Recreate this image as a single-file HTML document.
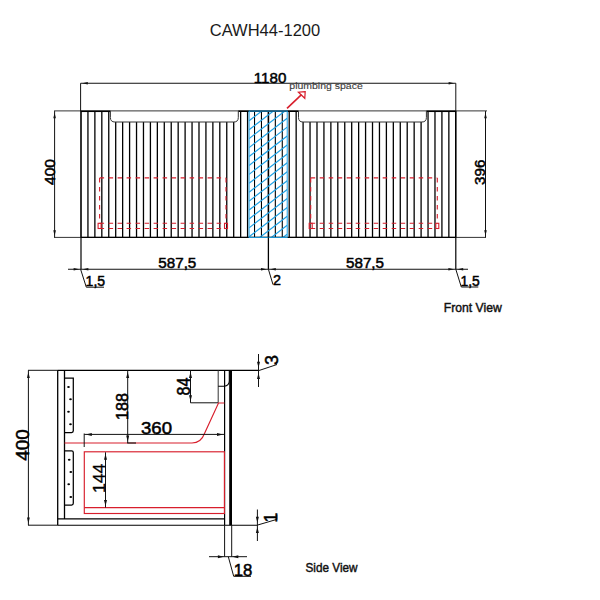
<!DOCTYPE html>
<html><head><meta charset="utf-8"><style>
html,body{margin:0;padding:0;background:#fff;}
svg{display:block;}
text{font-family:"Liberation Sans",sans-serif;}
</style></head><body>
<svg width="600" height="600" viewBox="0 0 600 600">
<rect width="600" height="600" fill="#fff"/>
<text x="209.8" y="36.4" font-size="16.3" text-anchor="start" fill="#1a1a1a" textLength="110.4" lengthAdjust="spacingAndGlyphs" >CAWH44-1200</text>
<line x1="54.00" y1="110.90" x2="487.00" y2="110.90" stroke="#333" stroke-width="1.0" />
<line x1="54.00" y1="237.40" x2="486.00" y2="237.40" stroke="#333" stroke-width="1.0" />
<line x1="81.00" y1="111.10" x2="81.00" y2="237.40" stroke="#000" stroke-width="1.6" />
<line x1="87.94" y1="111.10" x2="87.94" y2="237.40" stroke="#000" stroke-width="1.3" />
<line x1="94.88" y1="111.10" x2="94.88" y2="237.40" stroke="#000" stroke-width="1.3" />
<line x1="101.82" y1="111.10" x2="101.82" y2="237.40" stroke="#000" stroke-width="1.3" />
<line x1="108.76" y1="111.10" x2="108.76" y2="237.40" stroke="#000" stroke-width="1.3" />
<line x1="115.70" y1="122.00" x2="115.70" y2="237.40" stroke="#000" stroke-width="1.3" />
<line x1="122.64" y1="122.00" x2="122.64" y2="237.40" stroke="#000" stroke-width="1.3" />
<line x1="129.59" y1="122.00" x2="129.59" y2="237.40" stroke="#000" stroke-width="1.3" />
<line x1="136.53" y1="122.00" x2="136.53" y2="237.40" stroke="#000" stroke-width="1.3" />
<line x1="143.47" y1="122.00" x2="143.47" y2="237.40" stroke="#000" stroke-width="1.3" />
<line x1="150.41" y1="122.00" x2="150.41" y2="237.40" stroke="#000" stroke-width="1.3" />
<line x1="157.35" y1="122.00" x2="157.35" y2="237.40" stroke="#000" stroke-width="1.3" />
<line x1="164.29" y1="122.00" x2="164.29" y2="237.40" stroke="#000" stroke-width="1.3" />
<line x1="171.23" y1="122.00" x2="171.23" y2="237.40" stroke="#000" stroke-width="1.3" />
<line x1="178.17" y1="122.00" x2="178.17" y2="237.40" stroke="#000" stroke-width="1.3" />
<line x1="185.11" y1="122.00" x2="185.11" y2="237.40" stroke="#000" stroke-width="1.3" />
<line x1="192.05" y1="122.00" x2="192.05" y2="237.40" stroke="#000" stroke-width="1.3" />
<line x1="198.99" y1="122.00" x2="198.99" y2="237.40" stroke="#000" stroke-width="1.3" />
<line x1="205.93" y1="122.00" x2="205.93" y2="237.40" stroke="#000" stroke-width="1.3" />
<line x1="212.87" y1="122.00" x2="212.87" y2="237.40" stroke="#000" stroke-width="1.3" />
<line x1="219.81" y1="122.00" x2="219.81" y2="237.40" stroke="#000" stroke-width="1.3" />
<line x1="226.76" y1="122.00" x2="226.76" y2="237.40" stroke="#000" stroke-width="1.3" />
<line x1="233.70" y1="122.00" x2="233.70" y2="237.40" stroke="#000" stroke-width="1.3" />
<line x1="240.64" y1="111.10" x2="240.64" y2="237.40" stroke="#000" stroke-width="1.3" />
<line x1="247.58" y1="111.10" x2="247.58" y2="237.40" stroke="#000" stroke-width="1.3" />
<line x1="254.52" y1="111.10" x2="254.52" y2="237.40" stroke="#000" stroke-width="1.1" />
<line x1="261.46" y1="111.10" x2="261.46" y2="237.40" stroke="#000" stroke-width="1.1" />
<line x1="268.40" y1="111.10" x2="268.40" y2="237.40" stroke="#000" stroke-width="1.6" />
<line x1="275.34" y1="111.10" x2="275.34" y2="237.40" stroke="#000" stroke-width="1.1" />
<line x1="282.28" y1="111.10" x2="282.28" y2="237.40" stroke="#000" stroke-width="1.1" />
<line x1="289.22" y1="111.10" x2="289.22" y2="237.40" stroke="#000" stroke-width="1.3" />
<line x1="296.16" y1="111.10" x2="296.16" y2="237.40" stroke="#000" stroke-width="1.3" />
<line x1="303.10" y1="122.00" x2="303.10" y2="237.40" stroke="#000" stroke-width="1.3" />
<line x1="310.04" y1="122.00" x2="310.04" y2="237.40" stroke="#000" stroke-width="1.3" />
<line x1="316.99" y1="122.00" x2="316.99" y2="237.40" stroke="#000" stroke-width="1.3" />
<line x1="323.93" y1="122.00" x2="323.93" y2="237.40" stroke="#000" stroke-width="1.3" />
<line x1="330.87" y1="122.00" x2="330.87" y2="237.40" stroke="#000" stroke-width="1.3" />
<line x1="337.81" y1="122.00" x2="337.81" y2="237.40" stroke="#000" stroke-width="1.3" />
<line x1="344.75" y1="122.00" x2="344.75" y2="237.40" stroke="#000" stroke-width="1.3" />
<line x1="351.69" y1="122.00" x2="351.69" y2="237.40" stroke="#000" stroke-width="1.3" />
<line x1="358.63" y1="122.00" x2="358.63" y2="237.40" stroke="#000" stroke-width="1.3" />
<line x1="365.57" y1="122.00" x2="365.57" y2="237.40" stroke="#000" stroke-width="1.3" />
<line x1="372.51" y1="122.00" x2="372.51" y2="237.40" stroke="#000" stroke-width="1.3" />
<line x1="379.45" y1="122.00" x2="379.45" y2="237.40" stroke="#000" stroke-width="1.3" />
<line x1="386.39" y1="122.00" x2="386.39" y2="237.40" stroke="#000" stroke-width="1.3" />
<line x1="393.33" y1="122.00" x2="393.33" y2="237.40" stroke="#000" stroke-width="1.3" />
<line x1="400.27" y1="122.00" x2="400.27" y2="237.40" stroke="#000" stroke-width="1.3" />
<line x1="407.21" y1="122.00" x2="407.21" y2="237.40" stroke="#000" stroke-width="1.3" />
<line x1="414.16" y1="122.00" x2="414.16" y2="237.40" stroke="#000" stroke-width="1.3" />
<line x1="421.10" y1="122.00" x2="421.10" y2="237.40" stroke="#000" stroke-width="1.3" />
<line x1="428.04" y1="111.10" x2="428.04" y2="237.40" stroke="#000" stroke-width="1.3" />
<line x1="434.98" y1="111.10" x2="434.98" y2="237.40" stroke="#000" stroke-width="1.3" />
<line x1="441.92" y1="111.10" x2="441.92" y2="237.40" stroke="#000" stroke-width="1.3" />
<line x1="448.86" y1="111.10" x2="448.86" y2="237.40" stroke="#000" stroke-width="1.3" />
<line x1="455.80" y1="111.10" x2="455.80" y2="237.40" stroke="#000" stroke-width="1.6" />
<clipPath id="bc"><rect x="249.1" y="111.1" width="38.099999999999994" height="126.30000000000001"/></clipPath>
<g clip-path="url(#bc)">
<line x1="249.10" y1="31.60" x2="287.20" y2="2.26" stroke="#1ea2e6" stroke-width="1.2" />
<line x1="249.10" y1="40.52" x2="287.20" y2="11.18" stroke="#1ea2e6" stroke-width="1.2" />
<line x1="249.10" y1="49.44" x2="287.20" y2="20.10" stroke="#1ea2e6" stroke-width="1.2" />
<line x1="249.10" y1="58.36" x2="287.20" y2="29.02" stroke="#1ea2e6" stroke-width="1.2" />
<line x1="249.10" y1="67.28" x2="287.20" y2="37.94" stroke="#1ea2e6" stroke-width="1.2" />
<line x1="249.10" y1="76.20" x2="287.20" y2="46.86" stroke="#1ea2e6" stroke-width="1.2" />
<line x1="249.10" y1="85.12" x2="287.20" y2="55.78" stroke="#1ea2e6" stroke-width="1.2" />
<line x1="249.10" y1="94.04" x2="287.20" y2="64.70" stroke="#1ea2e6" stroke-width="1.2" />
<line x1="249.10" y1="102.96" x2="287.20" y2="73.62" stroke="#1ea2e6" stroke-width="1.2" />
<line x1="249.10" y1="111.88" x2="287.20" y2="82.54" stroke="#1ea2e6" stroke-width="1.2" />
<line x1="249.10" y1="120.80" x2="287.20" y2="91.46" stroke="#1ea2e6" stroke-width="1.2" />
<line x1="249.10" y1="129.72" x2="287.20" y2="100.38" stroke="#1ea2e6" stroke-width="1.2" />
<line x1="249.10" y1="138.64" x2="287.20" y2="109.30" stroke="#1ea2e6" stroke-width="1.2" />
<line x1="249.10" y1="147.56" x2="287.20" y2="118.22" stroke="#1ea2e6" stroke-width="1.2" />
<line x1="249.10" y1="156.48" x2="287.20" y2="127.14" stroke="#1ea2e6" stroke-width="1.2" />
<line x1="249.10" y1="165.40" x2="287.20" y2="136.06" stroke="#1ea2e6" stroke-width="1.2" />
<line x1="249.10" y1="174.32" x2="287.20" y2="144.98" stroke="#1ea2e6" stroke-width="1.2" />
<line x1="249.10" y1="183.24" x2="287.20" y2="153.90" stroke="#1ea2e6" stroke-width="1.2" />
<line x1="249.10" y1="192.16" x2="287.20" y2="162.82" stroke="#1ea2e6" stroke-width="1.2" />
<line x1="249.10" y1="201.08" x2="287.20" y2="171.74" stroke="#1ea2e6" stroke-width="1.2" />
<line x1="249.10" y1="210.00" x2="287.20" y2="180.66" stroke="#1ea2e6" stroke-width="1.2" />
<line x1="249.10" y1="218.92" x2="287.20" y2="189.58" stroke="#1ea2e6" stroke-width="1.2" />
<line x1="249.10" y1="227.84" x2="287.20" y2="198.50" stroke="#1ea2e6" stroke-width="1.2" />
<line x1="249.10" y1="236.76" x2="287.20" y2="207.42" stroke="#1ea2e6" stroke-width="1.2" />
<line x1="249.10" y1="245.68" x2="287.20" y2="216.34" stroke="#1ea2e6" stroke-width="1.2" />
<line x1="249.10" y1="254.60" x2="287.20" y2="225.26" stroke="#1ea2e6" stroke-width="1.2" />
<line x1="249.10" y1="263.52" x2="287.20" y2="234.18" stroke="#1ea2e6" stroke-width="1.2" />
<line x1="249.10" y1="272.44" x2="287.20" y2="243.10" stroke="#1ea2e6" stroke-width="1.2" />
<line x1="249.10" y1="281.36" x2="287.20" y2="252.02" stroke="#1ea2e6" stroke-width="1.2" />
<line x1="249.10" y1="290.28" x2="287.20" y2="260.94" stroke="#1ea2e6" stroke-width="1.2" />
</g>
<line x1="81.00" y1="111.30" x2="110.40" y2="111.30" stroke="#000" stroke-width="1.5" />
<line x1="238.30" y1="111.30" x2="298.50" y2="111.30" stroke="#000" stroke-width="1.5" />
<line x1="426.40" y1="111.30" x2="455.80" y2="111.30" stroke="#000" stroke-width="1.5" />
<line x1="81.00" y1="237.40" x2="455.80" y2="237.40" stroke="#000" stroke-width="1.3" />
<path d="M110.4,111.1 L110.4,117.5 Q110.4,122.0 114.9,122.0 L233.8,122.0 Q238.3,122.0 238.3,117.5 L238.3,111.1" fill="none" stroke="#333" stroke-width="1.0"/>
<path d="M298.49999999999994,111.1 L298.49999999999994,117.5 Q298.49999999999994,122.0 302.99999999999994,122.0 L421.9,122.0 Q426.4,122.0 426.4,117.5 L426.4,111.1" fill="none" stroke="#333" stroke-width="1.0"/>
<rect x="249.1" y="111.1" width="38.099999999999994" height="126.30000000000001" fill="none" stroke="#1ea2e6" stroke-width="1"/>
<line x1="99.60" y1="177.90" x2="226.00" y2="177.90" stroke="#d81e2c" stroke-width="1.1" stroke-dasharray="4.5,4.5"/>
<line x1="99.60" y1="177.90" x2="99.60" y2="223.30" stroke="#d81e2c" stroke-width="1.1" stroke-dasharray="4.5,4.5"/>
<line x1="226.00" y1="177.90" x2="226.00" y2="223.30" stroke="#d81e2c" stroke-width="1.1" stroke-dasharray="4.5,4.5"/>
<line x1="99.60" y1="228.50" x2="226.00" y2="228.50" stroke="#d81e2c" stroke-width="1.1" stroke-dasharray="4.5,4.5"/>
<line x1="99.60" y1="223.30" x2="226.00" y2="223.30" stroke="#d81e2c" stroke-width="1.1" stroke-dasharray="4.5,4.5"/>
<rect x="98.1" y="223.3" width="3" height="5.2" fill="none" stroke="#d81e2c" stroke-width="1.1"/>
<rect x="224.5" y="223.3" width="3" height="5.2" fill="none" stroke="#d81e2c" stroke-width="1.1"/>
<line x1="310.70" y1="177.90" x2="437.30" y2="177.90" stroke="#d81e2c" stroke-width="1.1" stroke-dasharray="4.5,4.5"/>
<line x1="310.70" y1="177.90" x2="310.70" y2="223.30" stroke="#d81e2c" stroke-width="1.1" stroke-dasharray="4.5,4.5"/>
<line x1="437.30" y1="177.90" x2="437.30" y2="223.30" stroke="#d81e2c" stroke-width="1.1" stroke-dasharray="4.5,4.5"/>
<line x1="310.70" y1="228.50" x2="437.30" y2="228.50" stroke="#d81e2c" stroke-width="1.1" stroke-dasharray="4.5,4.5"/>
<line x1="310.70" y1="223.30" x2="437.30" y2="223.30" stroke="#d81e2c" stroke-width="1.1" stroke-dasharray="4.5,4.5"/>
<rect x="309.2" y="223.3" width="3" height="5.2" fill="none" stroke="#d81e2c" stroke-width="1.1"/>
<rect x="435.8" y="223.3" width="3" height="5.2" fill="none" stroke="#d81e2c" stroke-width="1.1"/>
<line x1="80.60" y1="83.25" x2="455.80" y2="83.25" stroke="#111" stroke-width="1.0" />
<line x1="80.60" y1="83.25" x2="80.60" y2="111.10" stroke="#111" stroke-width="1.0" />
<line x1="455.80" y1="83.25" x2="455.80" y2="111.10" stroke="#111" stroke-width="1.0" />
<path d="M82.20,83.25 L87.80,81.95 L87.80,84.55 Z" fill="#111"/>
<path d="M454.20,83.25 L448.60,84.55 L448.60,81.95 Z" fill="#111"/>
<text x="253.8" y="82.6" font-size="15.2" text-anchor="start" fill="#000" stroke="#000" stroke-width="0.5" textLength="32.5" lengthAdjust="spacingAndGlyphs" >1180</text>
<text x="289.3" y="88.8" font-size="9.6" text-anchor="start" fill="#3a3a3a" stroke="#3a3a3a" stroke-width="0.1" textLength="73.5" lengthAdjust="spacingAndGlyphs" >plumbing space</text>
<line x1="287.00" y1="108.40" x2="301.50" y2="94.60" stroke="#d81e2c" stroke-width="1.6" />
<path d="M305.2,91.6 L298.4,92.2 L304.8,98.3 Z" fill="none" stroke="#d81e2c" stroke-width="1.2" stroke-linejoin="miter"/>
<line x1="54.60" y1="111.10" x2="54.60" y2="237.40" stroke="#111" stroke-width="1.0" />
<path d="M54.60,112.70 L55.90,118.30 L53.30,118.30 Z" fill="#111"/>
<path d="M54.60,235.80 L53.30,230.20 L55.90,230.20 Z" fill="#111"/>
<text x="54.5" y="172" font-size="15.5" text-anchor="middle" fill="#000" stroke="#000" stroke-width="0.5" textLength="25.9" lengthAdjust="spacingAndGlyphs" transform="rotate(-90 54.5 172)" >400</text>
<line x1="485.50" y1="111.10" x2="485.50" y2="237.40" stroke="#111" stroke-width="1.0" />
<path d="M485.50,112.70 L486.80,118.30 L484.20,118.30 Z" fill="#111"/>
<path d="M485.50,235.80 L484.20,230.20 L486.80,230.20 Z" fill="#111"/>
<text x="485.4" y="172.3" font-size="15.5" text-anchor="middle" fill="#000" stroke="#000" stroke-width="0.5" textLength="25.2" lengthAdjust="spacingAndGlyphs" transform="rotate(-90 485.4 172.3)" >396</text>
<line x1="81.00" y1="237.40" x2="81.00" y2="269.25" stroke="#000" stroke-width="1.2" />
<line x1="268.40" y1="237.40" x2="268.40" y2="269.25" stroke="#000" stroke-width="1.3" />
<line x1="455.80" y1="237.40" x2="455.80" y2="269.25" stroke="#000" stroke-width="1.2" />
<line x1="68.00" y1="269.25" x2="468.00" y2="269.25" stroke="#111" stroke-width="1.0" />
<path d="M79.20,269.25 L73.60,270.55 L73.60,267.95 Z" fill="#111"/>
<path d="M82.80,269.25 L88.40,267.95 L88.40,270.55 Z" fill="#111"/>
<path d="M266.60,269.25 L261.00,270.55 L261.00,267.95 Z" fill="#111"/>
<path d="M270.20,269.25 L275.80,267.95 L275.80,270.55 Z" fill="#111"/>
<path d="M454.00,269.25 L448.40,270.55 L448.40,267.95 Z" fill="#111"/>
<path d="M457.60,269.25 L463.20,267.95 L463.20,270.55 Z" fill="#111"/>
<text x="158.3" y="267.5" font-size="15.0" text-anchor="start" fill="#000" stroke="#000" stroke-width="0.5" textLength="38" lengthAdjust="spacingAndGlyphs" >587,5</text>
<text x="346.0" y="267.5" font-size="15.0" text-anchor="start" fill="#000" stroke="#000" stroke-width="0.5" textLength="38" lengthAdjust="spacingAndGlyphs" >587,5</text>
<line x1="80.60" y1="269.25" x2="86.30" y2="287.20" stroke="#111" stroke-width="1.0" />
<line x1="86.30" y1="287.20" x2="104.00" y2="287.20" stroke="#111" stroke-width="1.0" />
<text x="85.6" y="286.0" font-size="14.5" text-anchor="start" fill="#000" stroke="#000" stroke-width="0.5" textLength="19.5" lengthAdjust="spacingAndGlyphs" >1,5</text>
<line x1="268.40" y1="269.25" x2="273.00" y2="284.60" stroke="#111" stroke-width="1.0" />
<text x="273.0" y="284.7" font-size="14.8" text-anchor="start" fill="#000" stroke="#000" stroke-width="0.5" textLength="8" lengthAdjust="spacingAndGlyphs" >2</text>
<line x1="455.80" y1="269.25" x2="461.30" y2="287.00" stroke="#111" stroke-width="1.0" />
<line x1="461.30" y1="287.00" x2="478.30" y2="287.00" stroke="#111" stroke-width="1.0" />
<text x="460.5" y="286.0" font-size="14.5" text-anchor="start" fill="#000" stroke="#000" stroke-width="0.5" textLength="19.3" lengthAdjust="spacingAndGlyphs" >1,5</text>
<text x="443.8" y="311.75" font-size="13.2" text-anchor="start" fill="#111" stroke="#111" stroke-width="0.45" textLength="58" lengthAdjust="spacingAndGlyphs" >Front View</text>
<line x1="28.00" y1="370.30" x2="57.80" y2="370.30" stroke="#111" stroke-width="1.0" />
<line x1="57.80" y1="370.30" x2="259.00" y2="370.30" stroke="#000" stroke-width="1.15" />
<line x1="28.00" y1="525.20" x2="57.80" y2="525.20" stroke="#111" stroke-width="1.0" />
<line x1="57.80" y1="525.20" x2="257.70" y2="525.20" stroke="#000" stroke-width="1.15" />
<line x1="57.70" y1="370.30" x2="57.70" y2="525.20" stroke="#000" stroke-width="1.3" />
<line x1="64.50" y1="370.30" x2="64.50" y2="519.00" stroke="#000" stroke-width="1.3" />
<line x1="57.70" y1="518.80" x2="224.60" y2="518.80" stroke="#000" stroke-width="1.3" />
<path d="M64.5,378.2 L73.3,378.2 Q73.3,378.2 73.3,378.2 L73.3,430.8 Q73.3,432.5 71.6,432.5 L65,432.5" fill="none" stroke="#000" stroke-width="1.25"/>
<ellipse cx="68.5" cy="387" rx="1.35" ry="1.0" fill="#000"/>
<ellipse cx="70.5" cy="399.2" rx="1.35" ry="1.0" fill="#000"/>
<ellipse cx="68.5" cy="411.7" rx="1.35" ry="1.0" fill="#000"/>
<ellipse cx="70.5" cy="424.2" rx="1.35" ry="1.0" fill="#000"/>
<path d="M64.5,450.8 L71.6,450.8 Q73.3,450.8 73.3,452.5 L73.3,503.3 Q73.3,505.0 71.6,505.0 L65,505.0" fill="none" stroke="#000" stroke-width="1.25"/>
<ellipse cx="69.2" cy="459.7" rx="1.35" ry="1.0" fill="#000"/>
<ellipse cx="70.8" cy="472" rx="1.35" ry="1.0" fill="#000"/>
<ellipse cx="68.7" cy="484.2" rx="1.35" ry="1.0" fill="#000"/>
<ellipse cx="70.8" cy="497" rx="1.35" ry="1.0" fill="#000"/>
<line x1="224.60" y1="370.30" x2="224.60" y2="525.20" stroke="#000" stroke-width="1.2" />
<line x1="224.60" y1="525.20" x2="224.60" y2="556.70" stroke="#111" stroke-width="1.0" />
<line x1="230.60" y1="370.30" x2="230.60" y2="525.20" stroke="#000" stroke-width="2.8" />
<line x1="231.70" y1="525.20" x2="231.70" y2="556.70" stroke="#111" stroke-width="1.0" />
<line x1="218.20" y1="370.30" x2="218.20" y2="402.80" stroke="#333" stroke-width="1.0" />
<path d="M218.2,386.2 L224,386.2 Q229.3,385.7 229.3,381 L229.3,370.3" fill="none" stroke="#000" stroke-width="1.1"/>
<line x1="190.50" y1="370.30" x2="190.50" y2="402.80" stroke="#111" stroke-width="1.0" />
<line x1="190.50" y1="402.80" x2="218.20" y2="402.80" stroke="#111" stroke-width="1.0" />
<path d="M190.50,371.90 L192.00,377.90 L189.00,377.90 Z" fill="#111"/>
<path d="M190.50,401.20 L189.00,395.20 L192.00,395.20 Z" fill="#111"/>
<text x="190.0" y="386.5" font-size="17.5" text-anchor="middle" fill="#000" stroke="#000" stroke-width="0.5" textLength="17.9" lengthAdjust="spacingAndGlyphs" transform="rotate(-90 190.0 386.5)" >84</text>
<path d="M224.4,403 L218.5,403 L204.5,433.5 Q201,443.0 192,443.0 L64.5,443.0" fill="none" stroke="#d81e2c" stroke-width="1.15"/>
<rect x="84.3" y="451.8" width="140.10000000000002" height="61.69999999999999" fill="none" stroke="#d81e2c" stroke-width="1.15"/>
<line x1="84.30" y1="507.60" x2="224.40" y2="507.60" stroke="#d81e2c" stroke-width="1.15" />
<line x1="127.20" y1="443.00" x2="136.00" y2="443.00" stroke="#222" stroke-width="1.2" />
<line x1="127.70" y1="370.30" x2="127.70" y2="443.00" stroke="#111" stroke-width="1.0" />
<path d="M127.70,371.90 L129.20,377.90 L126.20,377.90 Z" fill="#111"/>
<path d="M127.70,441.40 L126.20,435.40 L129.20,435.40 Z" fill="#111"/>
<text x="128.0" y="406.5" font-size="16.2" text-anchor="middle" fill="#000" stroke="#000" stroke-width="0.5" textLength="27" lengthAdjust="spacingAndGlyphs" transform="rotate(-90 128.0 406.5)" >188</text>
<line x1="84.20" y1="434.40" x2="224.40" y2="434.40" stroke="#111" stroke-width="1.0" />
<line x1="84.20" y1="433.50" x2="84.20" y2="447.00" stroke="#111" stroke-width="1.0" />
<path d="M85.80,434.40 L91.80,432.90 L91.80,435.90 Z" fill="#111"/>
<path d="M223.00,434.40 L217.00,435.90 L217.00,432.90 Z" fill="#111"/>
<text x="141.0" y="434.0" font-size="16.5" text-anchor="start" fill="#000" stroke="#000" stroke-width="0.5" textLength="31" lengthAdjust="spacingAndGlyphs" >360</text>
<line x1="105.50" y1="452.30" x2="105.50" y2="507.50" stroke="#111" stroke-width="1.0" />
<path d="M105.50,453.70 L107.00,459.70 L104.00,459.70 Z" fill="#111"/>
<path d="M105.50,506.00 L104.00,500.00 L107.00,500.00 Z" fill="#111"/>
<text x="105.0" y="478.3" font-size="16.8" text-anchor="middle" fill="#000" stroke="#000" stroke-width="0.35" textLength="29.5" lengthAdjust="spacingAndGlyphs" transform="rotate(-90 105.0 478.3)" >144</text>
<line x1="28.40" y1="370.30" x2="28.40" y2="525.20" stroke="#111" stroke-width="1.0" />
<path d="M28.40,372.10 L29.80,377.90 L27.00,377.90 Z" fill="#111"/>
<path d="M28.40,523.40 L27.00,517.60 L29.80,517.60 Z" fill="#111"/>
<text x="28.9" y="445" font-size="18.5" text-anchor="middle" fill="#000" stroke="#000" stroke-width="0.5" textLength="31.6" lengthAdjust="spacingAndGlyphs" transform="rotate(-90 28.9 445)" >400</text>
<line x1="258.50" y1="354.00" x2="258.50" y2="387.00" stroke="#111" stroke-width="1.0" />
<path d="M258.50,367.80 L257.00,361.80 L260.00,361.80 Z" fill="#111"/>
<path d="M258.50,373.00 L260.00,379.00 L257.00,379.00 Z" fill="#111"/>
<line x1="259.00" y1="370.50" x2="277.00" y2="364.50" stroke="#111" stroke-width="1.0" />
<text x="278.0" y="365.0" font-size="18.0" text-anchor="start" fill="#000" stroke="#000" stroke-width="0.5" transform="rotate(-90 278.0 365.0)" >3</text>
<line x1="257.40" y1="509.50" x2="257.40" y2="541.00" stroke="#111" stroke-width="1.0" />
<path d="M257.40,522.70 L255.90,516.70 L258.90,516.70 Z" fill="#111"/>
<path d="M257.40,526.90 L258.90,532.90 L255.90,532.90 Z" fill="#111"/>
<line x1="257.70" y1="525.00" x2="276.80" y2="519.40" stroke="#111" stroke-width="1.0" />
<line x1="276.80" y1="519.60" x2="276.80" y2="514.50" stroke="#111" stroke-width="1.0" />
<text x="277.0" y="522.6" font-size="18.0" text-anchor="start" fill="#000" stroke="#000" stroke-width="0.5" transform="rotate(-90 277.0 522.6)" >1</text>
<line x1="209.00" y1="556.70" x2="247.00" y2="556.70" stroke="#111" stroke-width="1.0" />
<path d="M223.90,556.70 L217.90,558.20 L217.90,555.20 Z" fill="#111"/>
<path d="M232.30,556.70 L238.30,555.20 L238.30,558.20 Z" fill="#111"/>
<line x1="228.30" y1="556.70" x2="233.70" y2="576.30" stroke="#111" stroke-width="1.0" />
<line x1="233.70" y1="576.30" x2="251.00" y2="576.30" stroke="#111" stroke-width="1.0" />
<text x="233.7" y="576.0" font-size="17.4" text-anchor="start" fill="#000" stroke="#000" stroke-width="0.5" textLength="18.6" lengthAdjust="spacingAndGlyphs" >18</text>
<text x="305.5" y="571.6" font-size="13.2" text-anchor="start" fill="#111" stroke="#111" stroke-width="0.45" textLength="52" lengthAdjust="spacingAndGlyphs" >Side View</text>
</svg></body></html>
